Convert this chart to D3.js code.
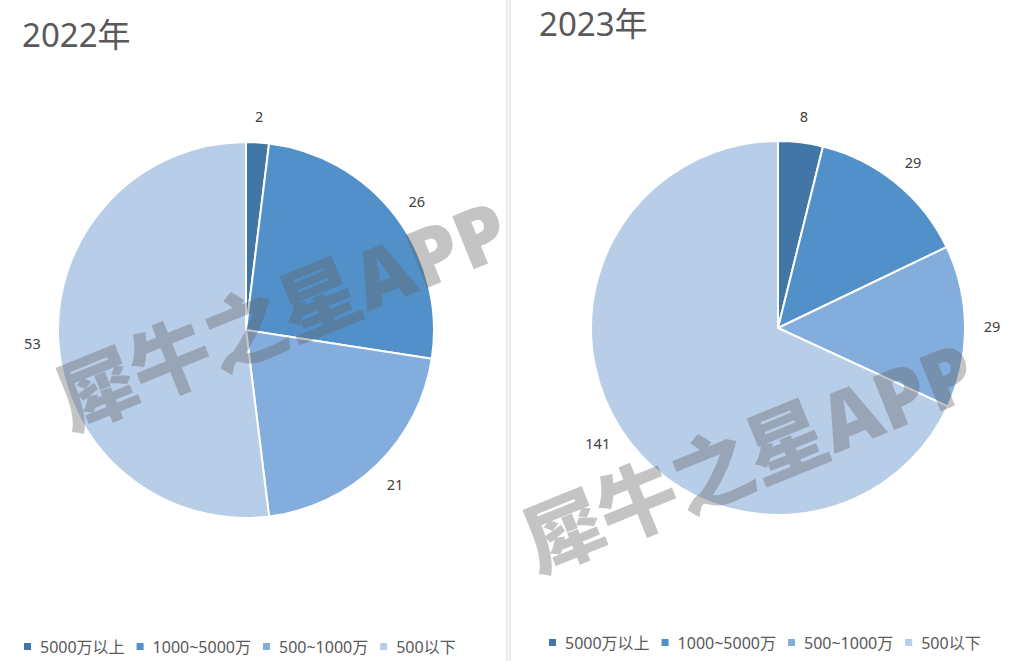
<!DOCTYPE html>
<html><head><meta charset="utf-8">
<script src="https://cdn.jsdelivr.net/npm/d3@7/dist/d3.min.js"></script>
<style>
html,body{margin:0;padding:0;background:#fff;}
svg{display:block;}
text{font-family:"Noto Sans","Noto Sans CJK SC",sans-serif;}
</style></head>
<body><svg id="c" width="1024" height="661"></svg>
<script>
const categories = ["5000万以上", "1000~5000万", "500~1000万", "500以下"];
const years = ["2022年", "2023年"];
const values2022 = [2, 26, 21, 53];
const values2023 = [8, 29, 29, 141];
const colors = ["#4176a6", "#5190c8", "#82addc", "#b8cde8"];

const svg = d3.select("#c");

// divider double line
[507, 510].forEach(x => svg.append("line").attr("x1", x).attr("x2", x).attr("y1", 0).attr("y2", 661)
  .attr("stroke", "#dcdcdc").attr("stroke-width", 1.2));

const panels = [
  {values: values2022, title: years[0], cx: 246, cy: 330, r: 188, tx: 22, ty: 47, ly: 647, lx: 24, wm: [281, 313]},
  {values: values2023, title: years[1], cx: 778, cy: 328, r: 187, tx: 539, ty: 36, ly: 643, lx: 549, wm: [748, 455]}
];

const color = d3.scaleOrdinal().domain(categories).range(colors);
const pie = d3.pie().sort(null).value(d => d.v);

panels.forEach(p => {
  const g = svg.append("g");
  g.append("text").attr("x", p.tx).attr("y", p.ty).attr("font-size", 33).attr("fill", "#595959").text(p.title);

  const data = categories.map((c, i) => ({c, v: p.values[i]}));
  const arcs = pie(data);
  const arc = d3.arc().innerRadius(0).outerRadius(p.r);
  const pg = g.append("g").attr("transform", `translate(${p.cx},${p.cy})`);
  pg.selectAll("path").data(arcs).join("path")
    .attr("d", arc).attr("fill", d => color(d.data.c))
    .attr("stroke", "#fff").attr("stroke-width", 2).attr("stroke-linejoin", "round");
  const labelArc = d3.arc().innerRadius(214).outerRadius(214);
  pg.selectAll("text.lbl").data(arcs).join("text").attr("class", "lbl")
    .attr("transform", d => `translate(${labelArc.centroid(d)})`)
    .attr("text-anchor", "middle").attr("dominant-baseline", "central")
    .attr("font-size", 14.5).attr("fill", "#404040")
    .text(d => d.data.v);

  // legend
  let x = p.lx;
  const lg = g.append("g");
  categories.forEach((c, i) => {
    lg.append("rect").attr("x", x).attr("y", p.ly - 4).attr("width", 7).attr("height", 7).attr("fill", colors[i]);
    const t = lg.append("text").attr("x", x + 16).attr("y", p.ly).attr("dominant-baseline", "central")
      .attr("font-size", 16).attr("fill", "#595959").text(c);
    x += 16 + t.node().getComputedTextLength() + 12;
  });

  // watermark
  svg.append("text").attr("transform", `translate(${p.wm[0]},${p.wm[1]}) rotate(-22)`)
    .attr("text-anchor", "middle").attr("dominant-baseline", "central")
    .attr("font-size", 80).attr("font-weight", 900).attr("fill", "#646464").attr("fill-opacity", 0.38)
    .text("犀牛之星APP");
});
</script></body></html>
